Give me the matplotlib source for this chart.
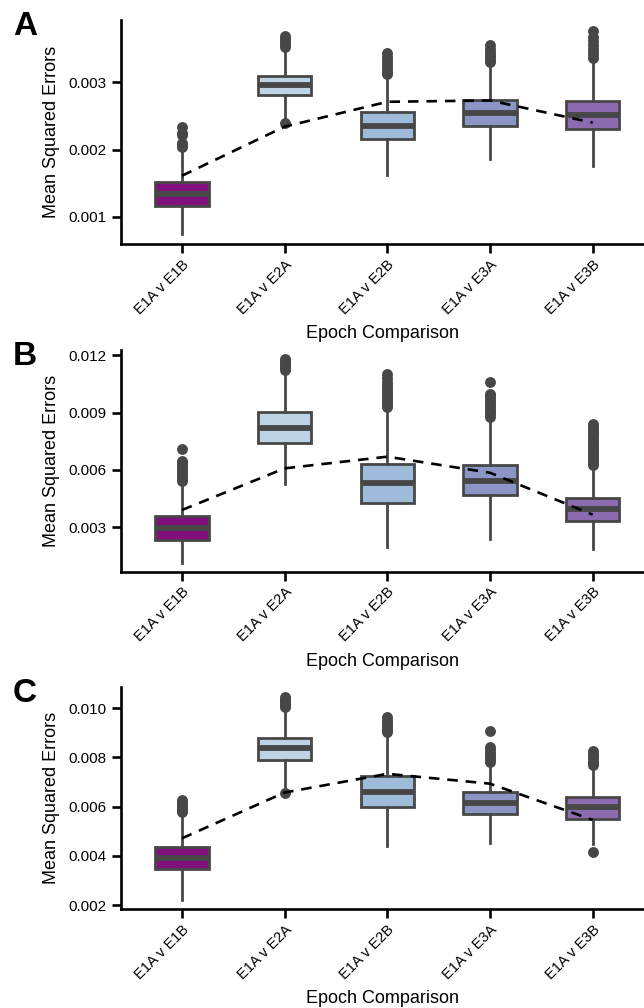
import numpy as np
import matplotlib
matplotlib.use("Agg")
import matplotlib.pyplot as plt

plt.rcParams['font.family'] = ['Liberation Sans', 'DejaVu Sans']

# epoch comparisons and BuPu colours
categories = ["E1A v E1B", "E1A v E2A", "E1A v E2B", "E1A v E3A", "E1A v E3B"]
box_colors = ['#810f7c', '#bfd3e6', '#9ebcda', '#8c96c6', '#8c6bb1']
line_grey = '#474747'

# panel A box statistics
a_q1 = [0.001164, 0.00281, 0.002156, 0.00235, 0.0023]
a_med = [0.001333, 0.00296, 0.00235, 0.00254, 0.00252]
a_q3 = [0.001521, 0.003098, 0.002554, 0.002737, 0.00272]
a_wlo = [0.000743, 0.00245, 0.00162, 0.00186, 0.00176]
a_whi = [0.00200, 0.00350, 0.00308, 0.00326, 0.00332]
a_fliers = [
    [0.00204, 0.00207, 0.0021, 0.00221, 0.00225, 0.00234],
    [0.0024, 0.00353, 0.00356, 0.00359, 0.00362, 0.00366, 0.00369],
    [0.00312, 0.00316, 0.0032, 0.00324, 0.00328, 0.00333, 0.00338, 0.00344],
    [0.0033, 0.00333, 0.00337, 0.00341, 0.00345, 0.0035, 0.00355],
    [0.00336, 0.0034, 0.00345, 0.0035, 0.00356, 0.00362, 0.00368, 0.00376],
]
a_fit = [0.00161, 0.00234, 0.00271, 0.00273, 0.0024]

# panel B
b_q1 = [0.002336, 0.00742, 0.00429, 0.00467, 0.00333]
b_med = [0.00298, 0.0082, 0.0053, 0.00542, 0.00394]
b_q3 = [0.003606, 0.00901, 0.00631, 0.00627, 0.00452]
b_wlo = [0.00115, 0.00526, 0.00199, 0.00237, 0.00185]
b_whi = [0.0053, 0.0111, 0.0092, 0.00875, 0.0062]
b_fliers = [
    [0.0054, 0.00552, 0.00564, 0.00576, 0.00588, 0.006, 0.00612, 0.00624, 0.00636, 0.00646, 0.00708],
    [0.01122, 0.01132, 0.01142, 0.01152, 0.01162, 0.01172, 0.01181],
    [0.00929, 0.0094, 0.00952, 0.00965, 0.00978, 0.0099, 0.01003, 0.01016, 0.0103, 0.01045, 0.01062, 0.01082, 0.01101],
    [0.00879, 0.0089, 0.00902, 0.00915, 0.00928, 0.0094, 0.00953, 0.00966, 0.00979, 0.00991, 0.00999, 0.0106],
    [0.00624, 0.00636, 0.00648, 0.0066, 0.00672, 0.00684, 0.00696, 0.00708, 0.0072, 0.00732, 0.00745,
     0.00758, 0.00772, 0.00786, 0.008, 0.00815, 0.00829, 0.00842],
]
b_fit = [0.0039, 0.00608, 0.00669, 0.00585, 0.00366]

# panel C
c_q1 = [0.00345, 0.0079, 0.006, 0.0057, 0.0055]
c_med = [0.00392, 0.00837, 0.0066, 0.00616, 0.00597]
c_q3 = [0.00437, 0.0088, 0.00724, 0.00661, 0.00638]
c_wlo = [0.0022, 0.00681, 0.00441, 0.00451, 0.0045]
c_whi = [0.0057, 0.00995, 0.0089, 0.00775, 0.0075]
c_fliers = [
    [0.00579, 0.00587, 0.00595, 0.00603, 0.00611, 0.00619, 0.00627],
    [0.00654, 0.01003, 0.0101, 0.01017, 0.01024, 0.01031, 0.01038, 0.01046],
    [0.00901, 0.00911, 0.00921, 0.00931, 0.00941, 0.00951, 0.00962],
    [0.00783, 0.00793, 0.00803, 0.00813, 0.00823, 0.00832, 0.0084, 0.00907],
    [0.00417, 0.00767, 0.00777, 0.00787, 0.00796, 0.00805, 0.00815, 0.00824],
]
c_fit = [0.00471, 0.00657, 0.00733, 0.00693, 0.00546]

a_ticks = [0.001, 0.002, 0.003]
b_ticks = [0.003, 0.006, 0.009, 0.012]
c_ticks = [0.002, 0.004, 0.006, 0.008, 0.010]

panels = [
    ("A", a_q1, a_med, a_q3, a_wlo, a_whi, a_fliers, a_fit, a_ticks, (0.000594, 0.00392),
     [0.1884, 0.7579, 0.8116, 0.2218]),
    ("B", b_q1, b_med, b_q3, b_wlo, b_whi, b_fliers, b_fit, b_ticks, (0.000679, 0.01227),
     [0.1884, 0.4329, 0.8116, 0.2199]),
    ("C", c_q1, c_med, c_q3, c_wlo, c_whi, c_fliers, c_fit, c_ticks, (0.00184, 0.01087),
     [0.1884, 0.0982, 0.8116, 0.2206]),
]

fig = plt.figure(figsize=(6.44, 10.08), dpi=100)

for letter, q1, med, q3, wlo, whi, fl, fit, ticks, ylim, rect in panels:
    ax = fig.add_axes(rect)
    stats = []
    for i in range(len(categories)):
        stats.append(dict(med=med[i], q1=q1[i], q3=q3[i], whislo=wlo[i], whishi=whi[i],
                          fliers=fl[i], label=categories[i]))
    bp = ax.bxp(stats, positions=range(len(categories)), widths=0.52, patch_artist=True,
                showcaps=False,
                boxprops=dict(edgecolor=line_grey, linewidth=2.0),
                whiskerprops=dict(color=line_grey, linewidth=2.0),
                medianprops=dict(color=line_grey, linewidth=4.2, solid_capstyle='butt'),
                flierprops=dict(marker='o', markersize=6.8, markerfacecolor=line_grey,
                                markeredgecolor=line_grey))
    for patch, col in zip(bp['boxes'], box_colors):
        patch.set_facecolor(col)
    ax.plot(range(len(categories)), fit, color='black', linestyle=(0, (4, 3)), linewidth=1.9,
            zorder=5)

    ax.set_xlim(-0.59, 4.5)
    ax.set_ylim(*ylim)
    ax.set_yticks(ticks)
    ax.set_yticklabels([f"{t:.3f}" for t in ticks])
    ax.set_xticks(range(len(categories)))
    ax.set_xticklabels(categories, rotation=45, ha='right', rotation_mode='anchor')
    for s in ['top', 'right']:
        ax.spines[s].set_visible(False)
    for s in ['left', 'bottom']:
        ax.spines[s].set_linewidth(1.9)
    ax.tick_params(axis='both', width=1.9, length=6.5, labelsize=10.5, color='black')
    ax.tick_params(axis='y', labelsize=11, pad=4.5)
    ax.tick_params(axis='x', pad=3)
    ax.set_ylabel("Mean Squared Errors", fontsize=13, labelpad=6)
    ax.set_xlabel("Epoch Comparison", fontsize=13, labelpad=6)
    top = rect[1] + rect[3]
    fig.text(0.02, top + 0.009, letter, fontsize=24, fontweight='bold', va='top', ha='left')

fig.savefig("out.png", dpi=100)
